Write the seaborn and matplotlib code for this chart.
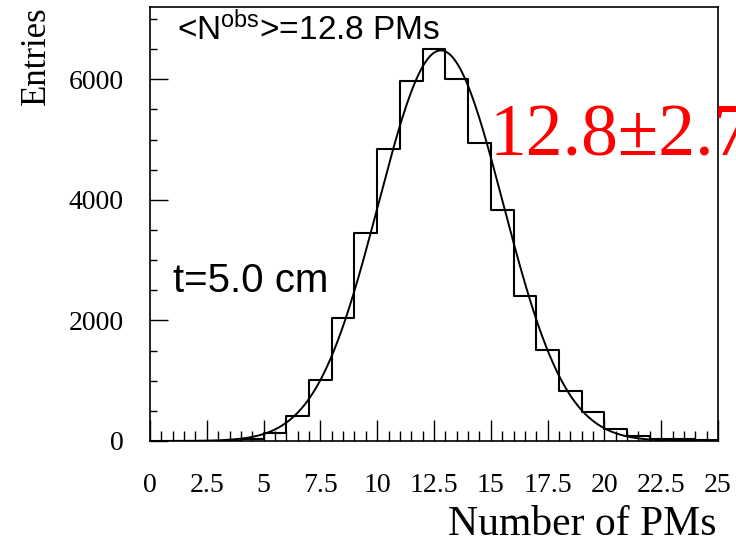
import numpy as np
import pandas as pd
import seaborn as sns
import matplotlib
matplotlib.use("Agg")
import matplotlib.pyplot as plt
from matplotlib.ticker import MultipleLocator, FixedLocator

# ---- data ----
bin_edges = list(range(0, 26))
counts = [0, 0, 0, 5, 30, 127, 413, 1008, 2044, 3444, 4836, 5972, 6499,
          6000, 4947, 3839, 2413, 1515, 832, 485, 193, 83, 40, 25, 15]
fit_mean = 12.8
fit_sigma = 2.75
fit_amplitude = 6480
x_tick_values = [0, 2.5, 5, 7.5, 10, 12.5, 15, 17.5, 20, 22.5, 25]
x_tick_labels = ["0", "2.5", "5", "7.5", "10", "12.5", "15", "17.5", "20", "22.5", "25"]
y_tick_values = [0, 2000, 4000, 6000]
y_tick_labels = ["0", "2000", "4000", "6000"]

sns.set_style("ticks")
plt.rcParams["font.family"] = ["Liberation Serif", "DejaVu Serif"]
plt.rcParams["mathtext.fontset"] = "custom"
plt.rcParams["mathtext.rm"] = "Liberation Sans"
plt.rcParams["mathtext.it"] = "Liberation Sans"
for k in ["text.color", "axes.labelcolor", "xtick.color", "ytick.color", "axes.edgecolor"]:
    plt.rcParams[k] = "black"

W, H = 736, 543
fig = plt.figure(figsize=(W / 100, H / 100), dpi=100)
ax = fig.add_axes([150 / W, (H - 441) / H, (718 - 150) / W, (441 - 7) / H])

centers = [(bin_edges[i] + bin_edges[i + 1]) / 2 for i in range(len(counts))]
df = pd.DataFrame({"x": centers, "w": counts})
sns.histplot(data=df, x="x", weights="w", bins=bin_edges, element="step",
             fill=False, color="black", linewidth=1.5, ax=ax)

xs = np.linspace(0, 25, 600)
ys = fit_amplitude * np.exp(-0.5 * ((xs - fit_mean) / fit_sigma) ** 2)
sns.lineplot(x=xs, y=ys, color="black", linewidth=1.4, ax=ax)

ax.set_xlim(0, 25)
ax.set_ylim(0, 7200)
ax.set_xlabel("")
ax.set_ylabel("")

ax.xaxis.set_major_locator(FixedLocator(x_tick_values))
ax.set_xticklabels(x_tick_labels)
ax.xaxis.set_minor_locator(MultipleLocator(0.5))
ax.yaxis.set_major_locator(FixedLocator(y_tick_values))
ax.set_yticklabels(y_tick_labels)
ax.yaxis.set_minor_locator(MultipleLocator(500))

ax.tick_params(axis="both", which="both", direction="in", top=False, right=False,
               color="black", labelcolor="black", width=1.0)
ax.tick_params(axis="x", which="major", length=15, pad=23, labelsize=20)
ax.tick_params(axis="x", which="minor", length=7)
ax.tick_params(axis="y", which="major", length=13, pad=19, labelsize=20)
ax.tick_params(axis="y", which="minor", length=5)
for lbl in ax.get_xticklabels() + ax.get_yticklabels():
    lbl.set_fontfamily(["Liberation Serif"])

for s in ax.spines.values():
    s.set_color("black")
    s.set_linewidth(1.2)

fig.text(36 / W, 1 - 6 / H, "Entries", rotation=90, ha="center", va="top",
         fontsize=25, family=["Liberation Serif"], color="black")
fig.text(716 / W, 1 - 535 / H, "Number of PMs", ha="right", va="baseline",
         fontsize=30, family=["Liberation Serif"], color="black")

fig.text(177 / W, 1 - 40 / H, r"<N$^{\mathrm{obs}}$>=12.8 PMs", ha="left",
         va="baseline", fontsize=24, family=["Liberation Sans"], color="black")
fig.text(173 / W, 1 - 292 / H, "t=5.0 cm", ha="left", va="baseline",
         fontsize=29, family=["Liberation Sans"], color="black")
fig.text(490 / W, 1 - 155 / H, "12.8\u00b12.7", ha="left", va="baseline",
         fontsize=53, color="red", family=["Liberation Serif"])

fig.savefig("out.png", dpi=100)
